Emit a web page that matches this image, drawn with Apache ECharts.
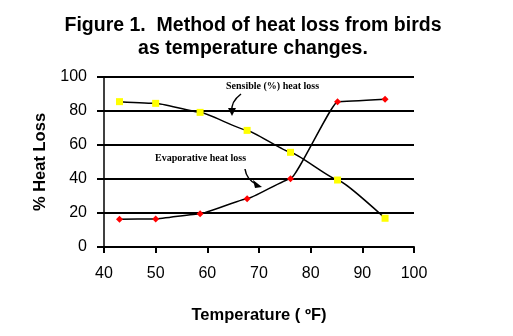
<!DOCTYPE html>
<html><head><meta charset="utf-8">
<script src="https://cdn.jsdelivr.net/npm/echarts@6/dist/echarts.min.js"></script>
<style>html,body{margin:0;padding:0;background:#fff}#c{width:513px;height:336px}</style>
</head><body><div id="c"></div>
<script>
var temps = [43, 50, 58.6, 67.7, 76.1, 85.2, 94.4];
var sensible = [85.5, 84.5, 79.2, 68.6, 55.7, 39.4, 16.9];
var evaporative = [16.3, 16.5, 19.6, 28.4, 40.2, 85.5, 86.9];
var xTicks = [40, 50, 60, 70, 80, 90, 100];
var yTicks = [0, 20, 40, 60, 80, 100];

function pairs(xs, ys){ return xs.map(function(x,i){return [x, ys[i]];}); }

var chart = echarts.init(document.getElementById('c'), null, {renderer:'canvas'});
chart.setOption({
  backgroundColor:'#fff',
  animation:false,
  title:{
    text:'Figure 1.  Method of heat loss from birds\nas temperature changes.',
    left:248, top:9, textAlign:'center',
    textStyle:{fontFamily:'Liberation Sans, Arial', fontWeight:'bold', fontSize:19.5, lineHeight:23, color:'#000'}
  },
  grid:{left:104, right:99, top:77, bottom:89},
  xAxis:{
    type:'value', min:xTicks[0], max:xTicks[xTicks.length-1], interval:10,
    name:'Temperature ( \u00BAF)', nameLocation:'middle', nameGap:60,
    nameTextStyle:{fontFamily:'Liberation Sans, Arial', fontWeight:'bold', fontSize:16.5, color:'#000'},
    axisLine:{lineStyle:{color:'#000', width:2}},
    axisTick:{show:true, length:6, lineStyle:{color:'#000', width:2}},
    axisLabel:{fontFamily:'Liberation Sans, Arial', fontSize:16, color:'#000', margin:19},
    splitLine:{show:false}
  },
  yAxis:{
    type:'value', min:yTicks[0], max:yTicks[yTicks.length-1], interval:20,
    name:'% Heat Loss', nameLocation:'middle', nameGap:55, nameRotate:90,
    nameTextStyle:{fontFamily:'Liberation Sans, Arial', fontWeight:'bold', fontSize:16.5, color:'#000'},
    axisLine:{show:true, lineStyle:{color:'#000', width:1.5}},
    axisTick:{show:true, length:7, lineStyle:{color:'#000', width:2}},
    axisLabel:{fontFamily:'Liberation Sans, Arial', fontSize:16, color:'#000', margin:17},
    splitLine:{show:true, lineStyle:{color:'#000', width:2}}
  },
  series:[
    {
      name:'Sensible (%) heat loss', type:'line', data:pairs(temps, sensible),
      smooth:0.12, smoothMonotone:'x', symbol:'rect', symbolSize:7,
      lineStyle:{color:'#000', width:1.5},
      itemStyle:{color:'#ffff00', borderWidth:0}
    },
    {
      name:'Evaporative heat loss', type:'line', data:pairs(temps, evaporative),
      smooth:0.12, smoothMonotone:'x', symbol:'diamond', symbolSize:7,
      lineStyle:{color:'#000', width:1.5},
      itemStyle:{color:'#ff0000', borderWidth:0}
    }
  ],
  graphic:[
    {type:'text', left:226, top:81, style:{text:'Sensible (%) heat loss', font:'bold 10px "Liberation Serif", "Times New Roman", serif', fill:'#000'}},
    {type:'text', left:155, top:153, style:{text:'Evaporative heat loss', font:'bold 10px "Liberation Serif", "Times New Roman", serif', fill:'#000'}},
    {type:'bezierCurve', shape:{x1:241, y1:94, cpx1:233, cpy1:100, cpx2:231, cpy2:106, x2:232, y2:112}, style:{stroke:'#000', lineWidth:1.5, fill:null}},
    {type:'polygon', shape:{points:[[228,108],[236,108],[232,116]]}, style:{fill:'#000'}},
    {type:'bezierCurve', shape:{x1:245, y1:169, cpx1:246, cpy1:176, cpx2:250, cpy2:181, x2:256, y2:184}, style:{stroke:'#000', lineWidth:1.5, fill:null}},
    {type:'polygon', shape:{points:[[253,180],[255,188],[262,187]]}, style:{fill:'#000'}}
  ]
});
</script></body></html>
